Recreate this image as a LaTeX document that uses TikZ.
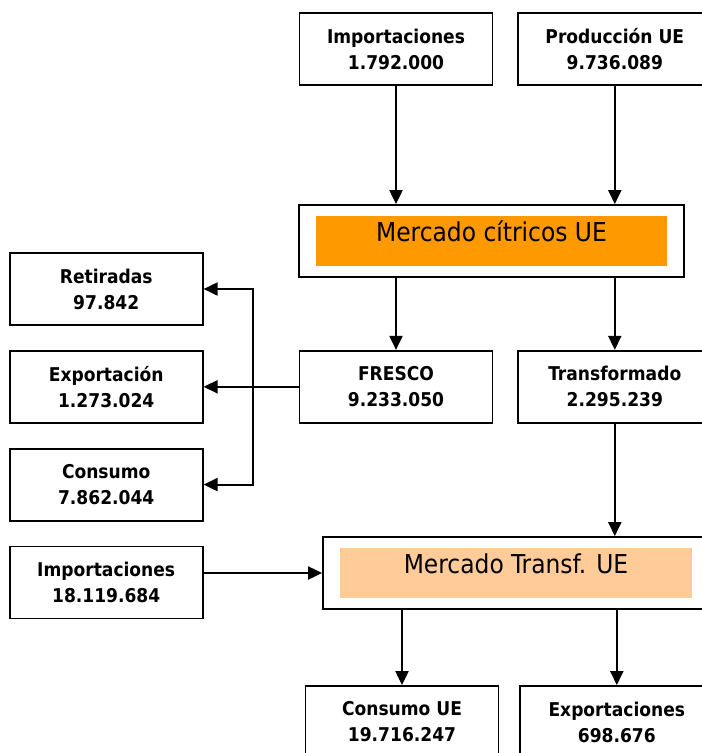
\documentclass[tikz,border=0pt]{standalone}
\usepackage{fontspec}
\setmainfont{DejaVu Sans Condensed}
\usepackage{xcolor}
\usetikzlibrary{arrows.meta,positioning}
\definecolor{citorange}{HTML}{FF9900}
\definecolor{transfpeach}{HTML}{FFCC99}

\begin{document}
\begin{tikzpicture}[x=1pt, y=1pt,
  box/.style={draw, line width=1.8pt, minimum width=193pt, minimum height=72pt, inner sep=0pt, align=center, font=\fontsize{19}{26}\selectfont\bfseries},
  market/.style={draw, line width=1.8pt, minimum width=386pt, minimum height=72pt, inner sep=0pt, text height=19pt, text depth=18pt, font=\fontsize{26}{30}\selectfont,
    path picture={\fill[#1] ([xshift=17pt,yshift=-11pt]path picture bounding box.north west) rectangle ([xshift=-17pt,yshift=11pt]path picture bounding box.south east);}},
  arr/.style={-{Triangle[length=14pt,width=13pt]}, line width=2pt}]
\useasboundingbox (0,0) rectangle (702,-753);
\clip (0,0) rectangle (702,-753);
\node[box] (imp1) at (396,-49) {Importaciones\\1.792.000};
\node[box, right=24pt of imp1] (prod) {Producción UE\\9.736.089};
\node[market=citorange, minimum width=385pt] (mcit) at (491.5,-241) {Mercado cítricos UE};
\node[box, below=264pt of imp1] (fresco) {FRESCO\\9.233.050};
\node[box, right=24pt of fresco] (transf) {Transformado\\2.295.239};
\node[box, left=95pt of fresco] (expo) {Exportación\\1.273.024};
\node[box, above=24pt of expo] (ret) {Retiradas\\97.842};
\node[box, below=24pt of expo] (cons) {Consumo\\7.862.044};
\node[box, below=24pt of cons] (imp2) {Importaciones\\18.119.684};
\node[market=transfpeach] (mtr) at (516,-573) {Mercado Transf. UE};
\node[box] (cue) at (402,-722) {Consumo UE\\19.716.247};
\node[box, right=20pt of cue] (expo2) {Exportaciones\\698.676};
\coordinate[left=46pt of fresco.west] (split);
% flows
\draw[arr] (imp1) -- (imp1 |- mcit.north);
\draw[arr] (prod) -- (prod |- mcit.north);
\draw[arr] (fresco |- mcit.south) -- (fresco);
\draw[arr] (transf |- mcit.south) -- (transf);
\draw[arr] (fresco) -- (expo);
\draw[arr] (split) |- (ret);
\draw[arr] (split) |- (cons);
\draw[arr] (transf) -- (transf |- mtr.north);
\draw[arr] (imp2.east |- mtr.west) -- (mtr);
\draw[arr] (cue |- mtr.south) -- (cue);
\draw[arr] (expo2 |- mtr.south) -- (expo2);
\end{tikzpicture}
\end{document}
